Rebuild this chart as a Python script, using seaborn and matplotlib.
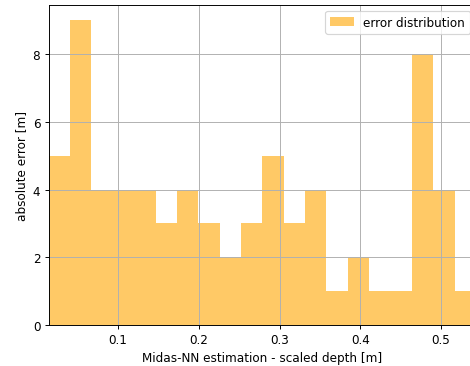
import numpy as np
import pandas as pd
import matplotlib
matplotlib.use("Agg")
import matplotlib.pyplot as plt
import seaborn as sns

# Histogram of the depth error: bin range and per-bin counts
x_min = 0.0139
x_max = 0.5435
n_bins = 20
counts = [5, 9, 4, 4, 4, 3, 4, 3, 2, 3, 5, 3, 4, 1, 2, 1, 1, 8, 4, 1]

edges = np.linspace(x_min, x_max, n_bins + 1)
centers = (edges[:-1] + edges[1:]) / 2
df = pd.DataFrame({"depth": centers, "count": counts})

dpi = 86
fig = plt.figure(figsize=(470 / dpi, 367 / dpi), dpi=dpi)
ax = fig.add_axes([48.7 / 470, 41 / 367, (476 - 48.7) / 470, 320 / 367])

sns.histplot(data=df, x="depth", weights="count", bins=n_bins,
             binrange=(x_min, x_max), color="orange", alpha=0.6,
             linewidth=0, label="error distribution", ax=ax)

ax.set_xlim(x_min, x_max)
ax.set_xticks([0.1, 0.2, 0.3, 0.4, 0.5])
ax.set_yticks([0, 2, 4, 6, 8])
ax.grid(True)
ax.set_xlabel("Midas-NN estimation - scaled depth [m]")
ax.set_ylabel("absolute error [m]")
ax.legend(loc="upper right")

fig.savefig("out.png", dpi=dpi)
